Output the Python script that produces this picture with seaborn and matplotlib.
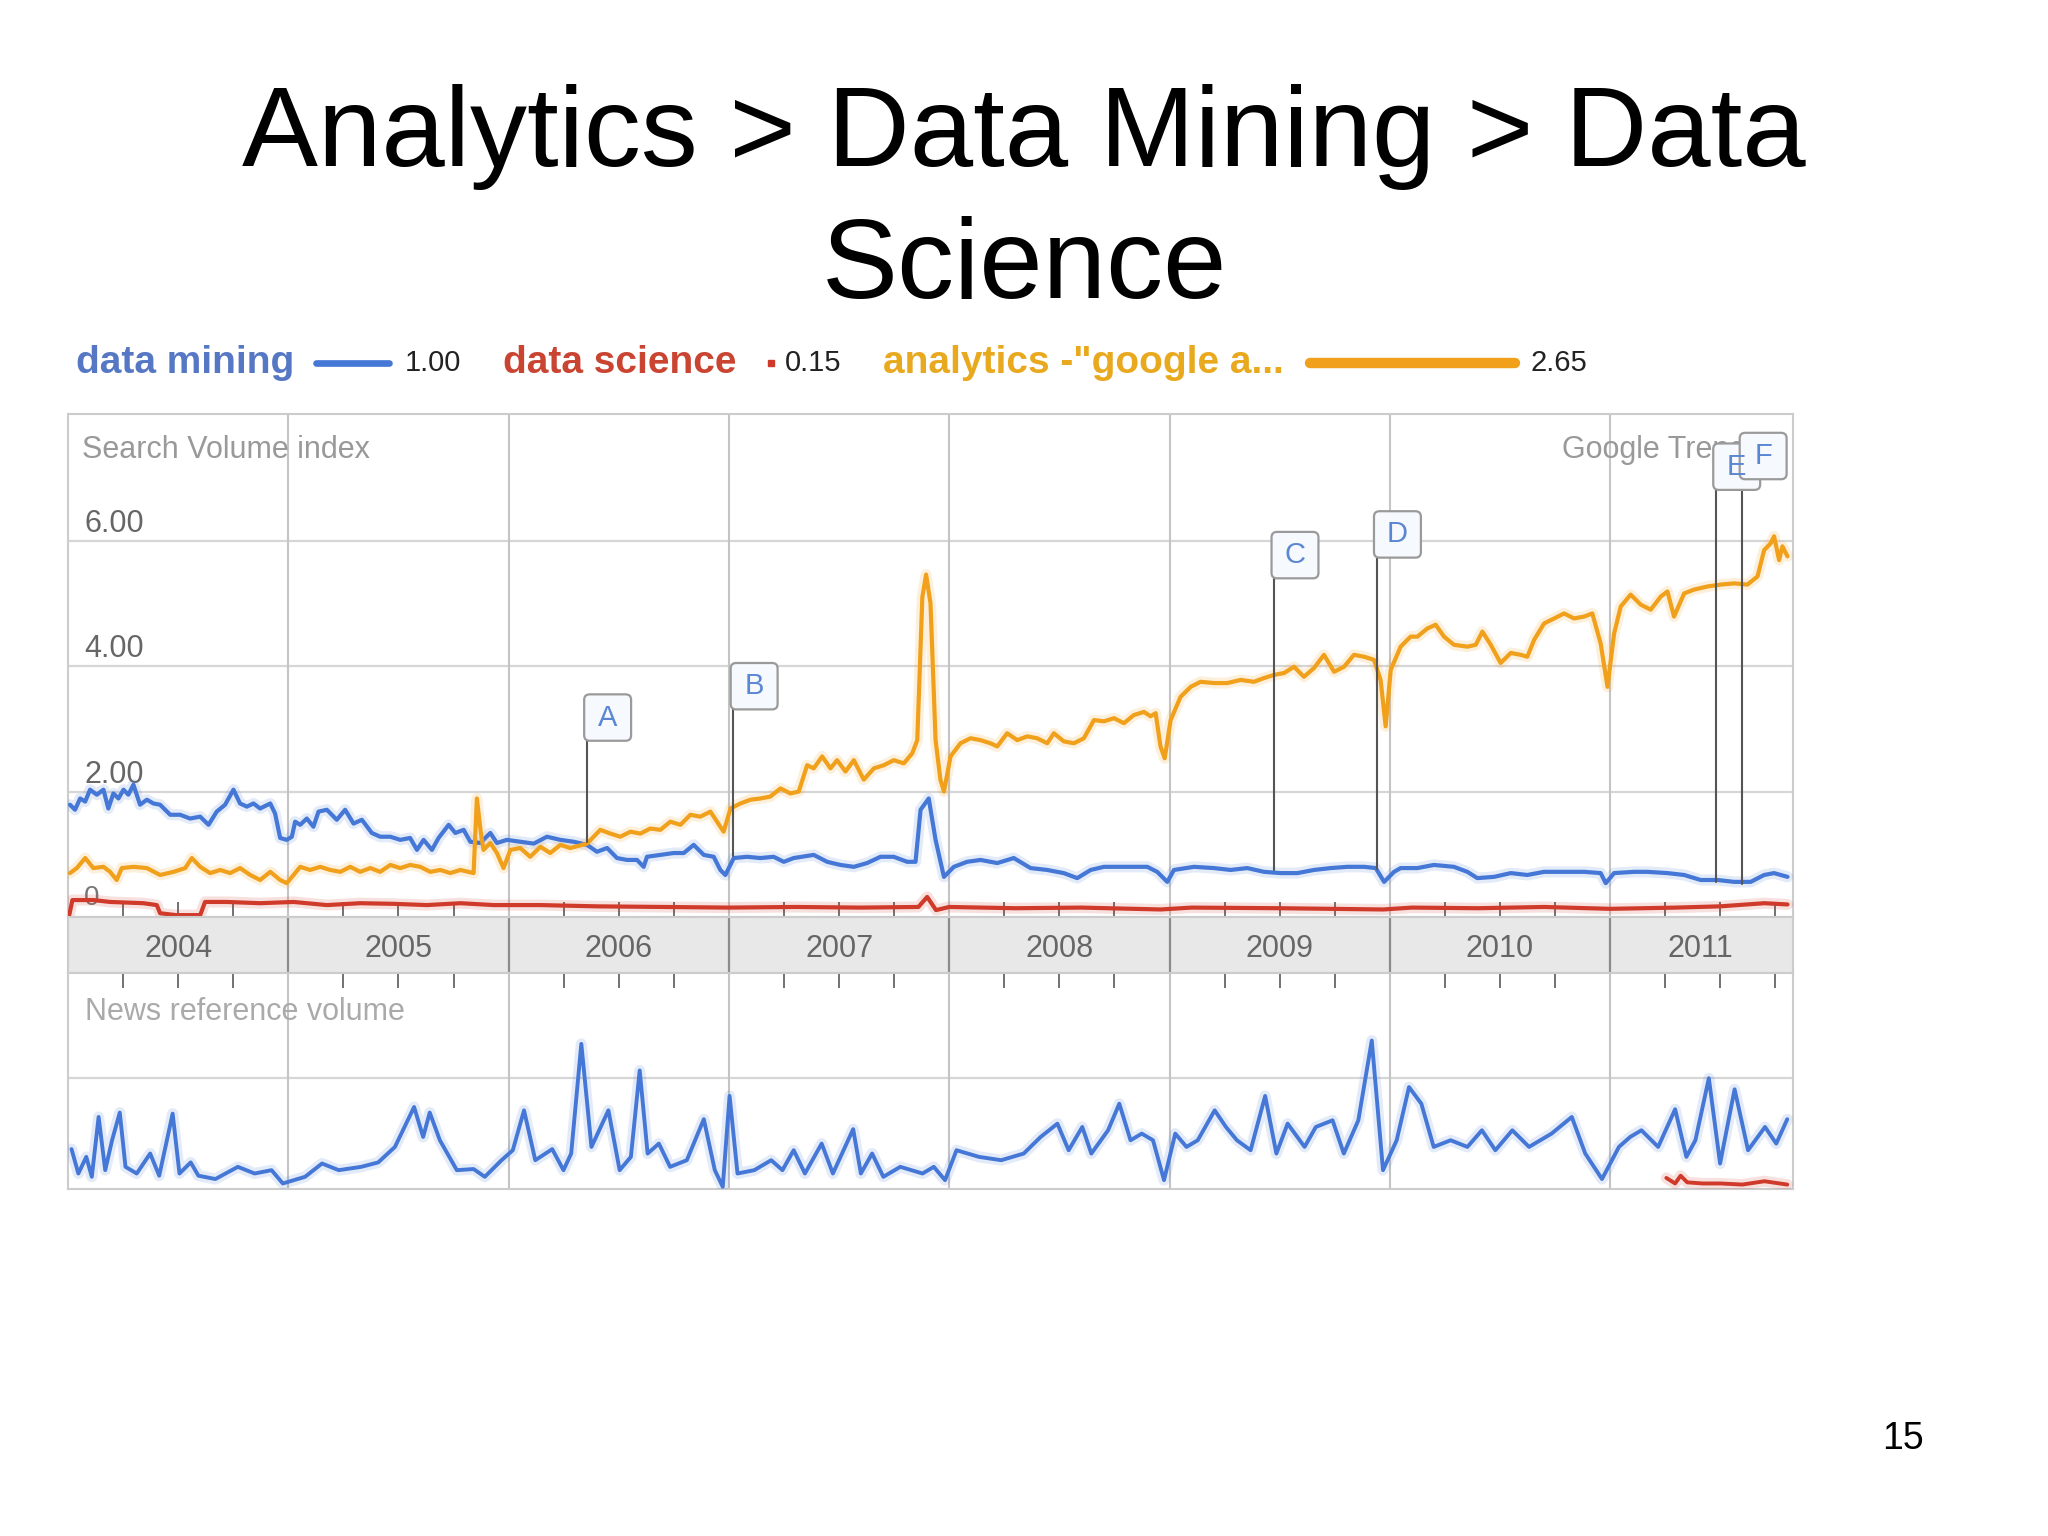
import numpy as np
import pandas as pd
import seaborn as sns
import matplotlib.pyplot as plt
from matplotlib.lines import Line2D
from matplotlib.patches import FancyBboxPatch

# ---- data (x in decimal years) ----
mining_years = [2004.009, 2004.032, 2004.055, 2004.078, 2004.100, 2004.131, 2004.161, 2004.183, 2004.206,
                2004.229, 2004.252, 2004.274, 2004.297, 2004.327, 2004.358, 2004.388, 2004.418, 2004.464,
                2004.509, 2004.554, 2004.600, 2004.638, 2004.675, 2004.713, 2004.751, 2004.781, 2004.812,
                2004.842, 2004.872, 2004.918, 2004.940, 2004.963, 2004.993, 2005.016, 2005.031, 2005.054,
                2005.084, 2005.114, 2005.137, 2005.175, 2005.220, 2005.258, 2005.296, 2005.334, 2005.379,
                2005.417, 2005.463, 2005.508, 2005.553, 2005.584, 2005.614, 2005.652, 2005.682, 2005.728,
                2005.758, 2005.796, 2005.826, 2005.871, 2005.917, 2005.947, 2005.992, 2006.053, 2006.114,
                2006.174, 2006.235, 2006.295, 2006.356, 2006.401, 2006.447, 2006.492, 2006.537, 2006.583,
                2006.613, 2006.628, 2006.689, 2006.749, 2006.795, 2006.840, 2006.886, 2006.931, 2006.961,
                2006.984, 2007.022, 2007.082, 2007.143, 2007.203, 2007.249, 2007.294, 2007.385, 2007.446,
                2007.506, 2007.567, 2007.627, 2007.688, 2007.748, 2007.809, 2007.847, 2007.870, 2007.907,
                2007.938, 2007.976, 2008.021, 2008.081, 2008.142, 2008.218, 2008.293, 2008.369, 2008.445,
                2008.520, 2008.581, 2008.642, 2008.702, 2008.778, 2008.838, 2008.899, 2008.944, 2008.990,
                2009.020, 2009.111, 2009.202, 2009.277, 2009.353, 2009.429, 2009.504, 2009.580, 2009.656,
                2009.731, 2009.807, 2009.883, 2009.936, 2009.974, 2010.019, 2010.049, 2010.125, 2010.200,
                2010.291, 2010.352, 2010.397, 2010.473, 2010.549, 2010.624, 2010.700, 2010.776, 2010.882,
                2010.957, 2010.980, 2011.018, 2011.109, 2011.169, 2011.260, 2011.336, 2011.411, 2011.487,
                2011.563, 2011.638, 2011.699, 2011.744, 2011.805]
mining_vals = [1.79, 1.71, 1.89, 1.84, 2.03, 1.95, 2.03, 1.73, 1.97,
               1.89, 2.03, 1.95, 2.11, 1.79, 1.87, 1.81, 1.79, 1.63,
               1.63, 1.57, 1.60, 1.47, 1.68, 1.79, 2.03, 1.81, 1.76,
               1.81, 1.73, 1.81, 1.65, 1.26, 1.23, 1.28, 1.52, 1.47,
               1.57, 1.44, 1.68, 1.71, 1.55, 1.71, 1.49, 1.55, 1.34,
               1.28, 1.28, 1.23, 1.26, 1.07, 1.23, 1.07, 1.26, 1.47,
               1.34, 1.39, 1.20, 1.18, 1.34, 1.18, 1.23, 1.20, 1.17,
               1.28, 1.23, 1.20, 1.15, 1.04, 1.10, 0.94, 0.91, 0.91,
               0.80, 0.96, 0.99, 1.02, 1.02, 1.15, 0.99, 0.96, 0.75,
               0.67, 0.94, 0.96, 0.94, 0.96, 0.88, 0.94, 0.99, 0.88,
               0.83, 0.80, 0.86, 0.96, 0.96, 0.88, 0.88, 1.71, 1.89,
               1.23, 0.64, 0.80, 0.88, 0.91, 0.86, 0.94, 0.78, 0.75,
               0.70, 0.62, 0.75, 0.80, 0.80, 0.80, 0.80, 0.72, 0.56,
               0.75, 0.80, 0.78, 0.75, 0.78, 0.72, 0.70, 0.70, 0.75,
               0.78, 0.80, 0.80, 0.78, 0.56, 0.72, 0.78, 0.78, 0.83,
               0.80, 0.72, 0.62, 0.64, 0.70, 0.67, 0.72, 0.72, 0.72,
               0.70, 0.54, 0.70, 0.72, 0.72, 0.70, 0.67, 0.59, 0.59,
               0.56, 0.56, 0.67, 0.70, 0.64]

analytics_years = [2004.009, 2004.040, 2004.078, 2004.115, 2004.161, 2004.191, 2004.221, 2004.244, 2004.297,
                   2004.358, 2004.418, 2004.479, 2004.532, 2004.562, 2004.600, 2004.645, 2004.691, 2004.736,
                   2004.781, 2004.827, 2004.872, 2004.918, 2004.963, 2004.993, 2005.024, 2005.054, 2005.099,
                   2005.145, 2005.190, 2005.236, 2005.281, 2005.326, 2005.372, 2005.417, 2005.463, 2005.508,
                   2005.553, 2005.599, 2005.644, 2005.690, 2005.735, 2005.781, 2005.841, 2005.856, 2005.874,
                   2005.886, 2005.917, 2005.947, 2005.977, 2006.008, 2006.053, 2006.098, 2006.144, 2006.189,
                   2006.235, 2006.280, 2006.356, 2006.416, 2006.462, 2006.507, 2006.553, 2006.598, 2006.643,
                   2006.689, 2006.734, 2006.780, 2006.825, 2006.870, 2006.916, 2006.946, 2006.976, 2007.007,
                   2007.052, 2007.098, 2007.143, 2007.188, 2007.234, 2007.279, 2007.317, 2007.355, 2007.385,
                   2007.423, 2007.461, 2007.491, 2007.529, 2007.567, 2007.612, 2007.658, 2007.703, 2007.748,
                   2007.794, 2007.832, 2007.855, 2007.878, 2007.895, 2007.915, 2007.938, 2007.960, 2007.976,
                   2008.006, 2008.051, 2008.097, 2008.142, 2008.187, 2008.218, 2008.263, 2008.309, 2008.354,
                   2008.399, 2008.445, 2008.475, 2008.520, 2008.566, 2008.611, 2008.657, 2008.702, 2008.748,
                   2008.793, 2008.838, 2008.884, 2008.914, 2008.937, 2008.959, 2008.978, 2009.005, 2009.050,
                   2009.096, 2009.141, 2009.202, 2009.262, 2009.323, 2009.383, 2009.429, 2009.474, 2009.520,
                   2009.565, 2009.610, 2009.656, 2009.701, 2009.747, 2009.792, 2009.837, 2009.883, 2009.928,
                   2009.958, 2009.981, 2010.004, 2010.049, 2010.094, 2010.125, 2010.170, 2010.208, 2010.246,
                   2010.291, 2010.352, 2010.390, 2010.420, 2010.458, 2010.503, 2010.549, 2010.594, 2010.624,
                   2010.655, 2010.700, 2010.745, 2010.791, 2010.836, 2010.882, 2010.919, 2010.957, 2010.988,
                   2011.018, 2011.048, 2011.093, 2011.139, 2011.184, 2011.230, 2011.260, 2011.290, 2011.336,
                   2011.381, 2011.442, 2011.502, 2011.563, 2011.623, 2011.669, 2011.699, 2011.729, 2011.744,
                   2011.767, 2011.782, 2011.805]
analytics_vals = [0.70, 0.78, 0.94, 0.78, 0.80, 0.72, 0.59, 0.78, 0.80,
                  0.78, 0.67, 0.72, 0.78, 0.94, 0.80, 0.70, 0.75, 0.70,
                  0.78, 0.67, 0.59, 0.72, 0.59, 0.54, 0.67, 0.80, 0.75,
                  0.80, 0.75, 0.72, 0.80, 0.72, 0.78, 0.72, 0.83, 0.78,
                  0.83, 0.80, 0.72, 0.75, 0.70, 0.75, 0.70, 1.89, 1.34,
                  1.07, 1.18, 1.02, 0.78, 1.07, 1.10, 0.96, 1.12, 1.02,
                  1.15, 1.10, 1.17, 1.39, 1.33, 1.28, 1.36, 1.33, 1.41,
                  1.39, 1.52, 1.47, 1.63, 1.60, 1.68, 1.52, 1.36, 1.73,
                  1.81, 1.87, 1.89, 1.92, 2.05, 1.97, 2.00, 2.42, 2.37,
                  2.56, 2.37, 2.50, 2.32, 2.50, 2.19, 2.37, 2.42, 2.50,
                  2.45, 2.61, 2.82, 5.10, 5.46, 5.00, 2.82, 2.19, 2.00,
                  2.56, 2.77, 2.85, 2.82, 2.77, 2.72, 2.93, 2.82, 2.88,
                  2.85, 2.77, 2.93, 2.80, 2.77, 2.85, 3.14, 3.12, 3.17,
                  3.09, 3.22, 3.27, 3.20, 3.25, 2.72, 2.53, 3.14, 3.51,
                  3.67, 3.75, 3.73, 3.73, 3.78, 3.75, 3.81, 3.86, 3.89,
                  3.99, 3.83, 3.97, 4.18, 3.91, 3.99, 4.18, 4.15, 4.10,
                  3.78, 3.04, 3.94, 4.31, 4.47, 4.47, 4.60, 4.66, 4.47,
                  4.34, 4.31, 4.34, 4.55, 4.34, 4.05, 4.21, 4.18, 4.15,
                  4.42, 4.68, 4.76, 4.84, 4.76, 4.79, 4.84, 4.36, 3.67,
                  4.52, 4.95, 5.14, 4.98, 4.90, 5.11, 5.19, 4.79, 5.16,
                  5.22, 5.27, 5.30, 5.32, 5.30, 5.43, 5.85, 5.96, 6.07,
                  5.69, 5.91, 5.75]

science_years = [2004.005, 2004.020, 2004.115, 2004.191, 2004.342, 2004.403, 2004.418, 2004.490, 2004.600,
                 2004.622, 2004.720, 2004.872, 2005.024, 2005.175, 2005.326, 2005.478, 2005.629, 2005.781,
                 2005.932, 2006.144, 2006.400, 2006.700, 2007.000, 2007.300, 2007.600, 2007.860, 2007.900,
                 2007.940, 2008.000, 2008.300, 2008.600, 2008.960, 2009.100, 2009.500, 2009.970, 2010.100,
                 2010.400, 2010.700, 2011.000, 2011.300, 2011.500, 2011.700, 2011.805]
science_vals = [0.02, 0.27, 0.27, 0.24, 0.22, 0.19, 0.06, 0.03, 0.03,
                0.24, 0.24, 0.22, 0.24, 0.19, 0.22, 0.21, 0.19, 0.22,
                0.19, 0.19, 0.17, 0.16, 0.15, 0.16, 0.15, 0.16, 0.32,
                0.11, 0.16, 0.14, 0.15, 0.12, 0.15, 0.14, 0.12, 0.15,
                0.14, 0.16, 0.13, 0.15, 0.17, 0.22, 0.20]

news_years = [2004.016, 2004.047, 2004.083, 2004.108, 2004.139, 2004.169, 2004.200, 2004.235, 2004.261,
              2004.312, 2004.373, 2004.414, 2004.475, 2004.506, 2004.557, 2004.592, 2004.669, 2004.771,
              2004.847, 2004.924, 2004.975, 2005.076, 2005.153, 2005.229, 2005.331, 2005.408, 2005.484,
              2005.571, 2005.612, 2005.642, 2005.688, 2005.765, 2005.841, 2005.892, 2005.968, 2006.019,
              2006.070, 2006.121, 2006.198, 2006.249, 2006.284, 2006.330, 2006.376, 2006.453, 2006.504,
              2006.555, 2006.595, 2006.631, 2006.682, 2006.733, 2006.809, 2006.886, 2006.936, 2006.972,
              2007.003, 2007.039, 2007.115, 2007.192, 2007.243, 2007.294, 2007.345, 2007.421, 2007.472,
              2007.564, 2007.599, 2007.650, 2007.701, 2007.778, 2007.879, 2007.930, 2007.981, 2008.033,
              2008.135, 2008.236, 2008.338, 2008.415, 2008.491, 2008.542, 2008.604, 2008.645, 2008.721,
              2008.772, 2008.823, 2008.874, 2008.925, 2008.975, 2009.026, 2009.077, 2009.128, 2009.205,
              2009.256, 2009.306, 2009.368, 2009.434, 2009.485, 2009.536, 2009.613, 2009.664, 2009.740,
              2009.791, 2009.857, 2009.918, 2009.969, 2010.031, 2010.087, 2010.143, 2010.199, 2010.276,
              2010.352, 2010.418, 2010.479, 2010.556, 2010.632, 2010.734, 2010.826, 2010.887, 2010.963,
              2011.040, 2011.091, 2011.142, 2011.218, 2011.295, 2011.346, 2011.387, 2011.448, 2011.499,
              2011.565, 2011.626, 2011.703, 2011.754, 2011.804]
news_vals = [0.36, 0.14, 0.29, 0.11, 0.65, 0.17, 0.44, 0.69, 0.20,
             0.14, 0.32, 0.12, 0.68, 0.14, 0.24, 0.12, 0.09, 0.20,
             0.14, 0.17, 0.05, 0.11, 0.23, 0.17, 0.20, 0.24, 0.38,
             0.74, 0.47, 0.69, 0.44, 0.17, 0.18, 0.11, 0.26, 0.35,
             0.71, 0.26, 0.36, 0.17, 0.32, 1.31, 0.38, 0.71, 0.17,
             0.29, 1.07, 0.32, 0.41, 0.20, 0.26, 0.63, 0.17, 0.02,
             0.84, 0.14, 0.17, 0.26, 0.17, 0.35, 0.14, 0.41, 0.14,
             0.54, 0.14, 0.32, 0.11, 0.20, 0.14, 0.20, 0.08, 0.35,
             0.29, 0.26, 0.32, 0.47, 0.59, 0.35, 0.56, 0.32, 0.53,
             0.77, 0.44, 0.50, 0.44, 0.08, 0.50, 0.38, 0.44, 0.71,
             0.56, 0.44, 0.35, 0.84, 0.32, 0.59, 0.38, 0.56, 0.62,
             0.32, 0.62, 1.34, 0.17, 0.44, 0.92, 0.77, 0.38, 0.44,
             0.38, 0.53, 0.35, 0.53, 0.38, 0.50, 0.65, 0.32, 0.09,
             0.38, 0.47, 0.53, 0.38, 0.72, 0.29, 0.44, 1.00, 0.23,
             0.90, 0.35, 0.56, 0.41, 0.63]

news_science_years = [2011.255, 2011.295, 2011.320, 2011.350, 2011.420, 2011.500, 2011.600, 2011.700, 2011.804]
news_science_vals = [0.10, 0.05, 0.12, 0.06, 0.05, 0.05, 0.04, 0.07, 0.04]

flag_letters = ["A", "B", "C", "D", "E", "F"]
flag_years = [2006.355, 2007.020, 2009.475, 2009.940, 2011.480, 2011.600]
flag_base = [1.19, 0.98, 0.75, 0.77, 0.56, 0.52]
flag_top = [2.81, 3.31, 5.40, 5.73, 6.81, 6.98]

year_labels = ["2004", "2005", "2006", "2007", "2008", "2009", "2010", "2011"]
year_label_pos = [2004.5, 2005.5, 2006.5, 2007.5, 2008.5, 2009.5, 2010.5, 2011.41]
svi_ticks = [2, 4, 6]
svi_labels = ["2.00", "4.00", "6.00"]

legend_names = ["data mining", "data science", 'analytics -"google a...']
legend_totals = ["1.00", "0.15", "2.65"]

# ---- style ----
BLUE = "#4577d6"
ORANGE = "#f0a01a"
RED = "#cf3a2a"
GRID = "#d6d6d6"
X0, X1 = 2004.0, 2011.83

sns.set_theme(style="white")
plt.rcParams["font.family"] = ["Liberation Sans", "DejaVu Sans"]

W, H = 2048, 1536
fig = plt.figure(figsize=(20.48, 15.36), dpi=100)
fig.patch.set_facecolor("white")


def fx(x):
    return x / W


def fy(y):
    return 1 - y / H


left, right = 68, 1793
ax1 = fig.add_axes([fx(left), fy(917), fx(right - left), (917 - 414) / H])
band = fig.add_axes([fx(left), fy(973), fx(right - left), (973 - 917) / H])
ax2 = fig.add_axes([fx(left), fy(1189), fx(right - left), (1189 - 973) / H])

quarters = np.arange(2004.0, 2011.84, 0.25)
years_grid = np.arange(2005, 2012)

# top panel: search volume index
df_top = pd.DataFrame({"year": mining_years, "v": mining_vals})
df_an = pd.DataFrame({"year": analytics_years, "v": analytics_vals})
df_sc = pd.DataFrame({"year": science_years, "v": science_vals})
for d, c in [(df_sc, RED), (df_top, BLUE), (df_an, ORANGE)]:
    sns.lineplot(data=d, x="year", y="v", ax=ax1, color=c, linewidth=8, alpha=0.15,
                 estimator=None, sort=False, zorder=3)
    sns.lineplot(data=d, x="year", y="v", ax=ax1, color=c, linewidth=3.0,
                 estimator=None, sort=False, zorder=4)

ax1.set_xlim(X0, X1)
ax1.set_ylim(0, 8.02)
for t in svi_ticks:
    ax1.axhline(t, color=GRID, lw=1.6, zorder=1)
for yr in years_grid:
    ax1.axvline(yr, color="#c4c4c4", lw=1.5, zorder=1)
for t, lab in zip(svi_ticks, svi_labels):
    ax1.text(2004.075, t + 0.03, lab, fontsize=22, color="#666666", va="bottom", ha="left", zorder=2)
ax1.text(2004.07, 0.30, "0", fontsize=20, color="#777777", va="center", ha="left", zorder=2)
ax1.text(2004.065, 7.45, "Search Volume index", fontsize=22, color="#999999", va="center", ha="left")
ax1.text(2010.78, 7.45, "Google Trends", fontsize=22, color="#999999", va="center", ha="left", zorder=2)
ax1.set_xticks(quarters)
ax1.set_xticklabels([])
ax1.set_yticks([])
ax1.tick_params(axis="x", bottom=True, direction="in", length=11, width=1.3, color="#666666")
ax1.set_xlabel("")
ax1.set_ylabel("")
for s in ax1.spines.values():
    s.set_color("#cccccc")
    s.set_linewidth(1.5)

# event flags
box_w = 0.213
box_h = 0.74
for letter, x, b, t in zip(flag_letters, flag_years, flag_base, flag_top):
    ax1.plot([x, x], [b, t], color="#555555", lw=1.5, zorder=5)
    patch = FancyBboxPatch((x - 0.012, t), box_w, box_h,
                           boxstyle="round,pad=0,rounding_size=0.025", mutation_aspect=3.5,
                           facecolor="#f6f9fd", edgecolor="#9a9a9a", lw=1.6, zorder=6)
    ax1.add_patch(patch)
    ax1.text(x - 0.012 + box_w / 2, t + box_h / 2, letter, fontsize=21, color="#5a86d2",
             ha="center", va="center", zorder=7)

# year band
band.set_xlim(X0, X1)
band.set_ylim(0, 1)
band.set_facecolor("#e8e8e8")
for yr in years_grid:
    band.axvline(yr, color="#8c8c8c", lw=1.6)
for lab, pos in zip(year_labels, year_label_pos):
    band.text(pos, 0.43, lab, fontsize=22, color="#666666", ha="center", va="center")
band.set_xticks([])
band.set_yticks([])
for s in band.spines.values():
    s.set_color("#cccccc")
    s.set_linewidth(1.5)

# news panel
df_news = pd.DataFrame({"year": news_years, "v": news_vals})
df_news_sc = pd.DataFrame({"year": news_science_years, "v": news_science_vals})
for d, c in [(df_news, BLUE), (df_news_sc, RED)]:
    sns.lineplot(data=d, x="year", y="v", ax=ax2, color=c, linewidth=8, alpha=0.15,
                 estimator=None, sort=False, zorder=3)
    sns.lineplot(data=d, x="year", y="v", ax=ax2, color=c, linewidth=2.8,
                 estimator=None, sort=False, zorder=4)
ax2.set_xlim(X0, X1)
ax2.set_ylim(0, 1.95)
ax2.axhline(1.0, color=GRID, lw=1.6, zorder=1)
for yr in years_grid:
    ax2.axvline(yr, color="#c4c4c4", lw=1.5, zorder=1)
ax2.text(2004.077, 1.6, "News reference volume", fontsize=22, color="#aaaaaa", va="center", ha="left")
ax2.set_xticks(quarters)
ax2.set_xticklabels([])
ax2.set_yticks([])
ax2.tick_params(axis="x", top=True, bottom=False, direction="in", length=11, width=1.3, color="#666666")
ax2.set_xlabel("")
ax2.set_ylabel("")
for s in ax2.spines.values():
    s.set_color("#cccccc")
    s.set_linewidth(1.5)

# legend row
ly = fy(363)
fig.text(fx(76), ly, legend_names[0], fontsize=28, weight="bold", color="#5577c4", va="center")
fig.add_artist(Line2D([fx(316), fx(389)], [ly, ly], color=BLUE, lw=4.8))
fig.text(fx(405), ly, legend_totals[0], fontsize=21, color="#222222", va="center")
fig.text(fx(503), ly, legend_names[1], fontsize=28, weight="bold", color="#c94431", va="center")
fig.add_artist(Line2D([fx(771)], [ly], color=RED, marker="s", markersize=5, lw=0))
fig.text(fx(785), ly, legend_totals[1], fontsize=21, color="#222222", va="center")
fig.text(fx(883), ly, legend_names[2], fontsize=28, weight="bold", color="#e9a91e", va="center")
fig.add_artist(Line2D([fx(1310), fx(1515)], [ly, ly], color=ORANGE, lw=7.5))
fig.text(fx(1531), ly, legend_totals[2], fontsize=21, color="#222222", va="center")

# title and page number
fig.text(0.5, fy(166), "Analytics > Data Mining > Data", fontsize=82, ha="center", va="baseline", color="black")
fig.text(0.5, fy(298), "Science", fontsize=82, ha="center", va="baseline", color="black")
fig.text(fx(1882), fy(1449), "15", fontsize=27, ha="left", va="baseline", color="black")

fig.savefig("out.png", dpi=100, facecolor="white")
